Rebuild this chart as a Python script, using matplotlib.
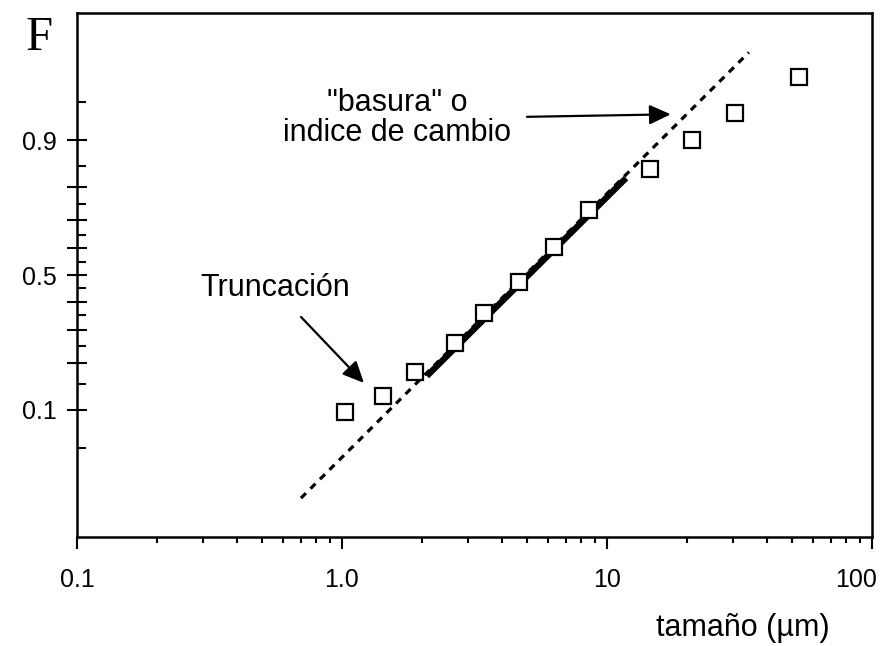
import numpy as np
import matplotlib
matplotlib.use('Agg')
import matplotlib.pyplot as plt
import matplotlib.transforms as mtransforms
from matplotlib.ticker import FixedLocator, NullFormatter, LogLocator
from statistics import NormalDist

# grain size (um) vs cumulative fraction F
size = [1.03, 1.43, 1.89, 2.67, 3.43, 4.65, 6.31, 8.55, 14.5, 20.9, 30.4, 53.0]
frac = [0.096, 0.125, 0.178, 0.259, 0.359, 0.473, 0.605, 0.732, 0.844, 0.901, 0.939, 0.970]

# extrapolated trend (dotted) and fitted part (thick)
trend_x = [0.70, 34.3]
trend_f = [0.0168, 0.983]
fit_x = [2.09, 11.8]
fit_f = [0.168, 0.822]

major_f = [0.1, 0.2, 0.3, 0.4, 0.5, 0.6, 0.7, 0.8, 0.9]
minor_f = [0.05, 0.15, 0.25, 0.35, 0.45, 0.55, 0.65, 0.75, 0.85, 0.95]
labels_f = {0.1: '0.1', 0.5: '0.5', 0.9: '0.9'}
x_ticks = [0.1, 1.0, 10, 100]
x_labels = ['0.1', '1.0', '10', '100']

nd = NormalDist()
_ppf = np.vectorize(lambda p: nd.inv_cdf(min(max(p, 1e-9), 1 - 1e-9)))
_cdf = np.vectorize(nd.cdf)

def probit(p):
    return _ppf(np.asarray(p, dtype=float))

def inv_probit(z):
    return _cdf(np.asarray(z, dtype=float))

plt.rcParams['font.family'] = ['Liberation Sans', 'DejaVu Sans']

fig = plt.figure(figsize=(8.83, 6.46), dpi=100)
ax = fig.add_axes([77/883, 1 - 537/646, 795/883, 524/646])

ax.set_xscale('log')
ax.set_yscale('function', functions=(probit, inv_probit))
ax.set_xlim(0.1, 100)
ax.set_ylim(0.0063, 0.9937)

ax.plot(trend_x, trend_f, color='black', lw=2.3, linestyle=(0, (2.2, 2.0)))
ax.plot(fit_x, fit_f, color='black', lw=4.5, solid_capstyle='butt')
ax.plot(size, frac, linestyle='none', marker='s', ms=11.5, mfc='white',
        mec='black', mew=1.6)

# y axis (probability scale)
ax.yaxis.set_major_locator(FixedLocator(major_f))
ax.yaxis.set_minor_locator(FixedLocator(minor_f))
ax.set_yticklabels([labels_f.get(v, '') for v in major_f])
ax.yaxis.set_minor_formatter(NullFormatter())
ax.tick_params(axis='y', which='major', direction='inout', length=15, width=1.5,
               labelsize=18, pad=7)
ax.tick_params(axis='y', which='minor', direction='in', length=6.5, width=1.5)

# x axis (log)
ax.set_xticks(x_ticks)
ax.set_xticklabels(x_labels)
ax.xaxis.set_minor_locator(LogLocator(base=10, subs=np.arange(2, 10)))
ax.xaxis.set_minor_formatter(NullFormatter())
ax.tick_params(axis='x', which='major', direction='out', length=8.5, width=1.5,
               labelsize=18, pad=14)
ax.tick_params(axis='x', which='minor', direction='out', length=4.3, width=1.5)
last = ax.get_xticklabels()[-1]
last.set_horizontalalignment('right')
last.set_transform(last.get_transform() +
                   mtransforms.ScaledTranslation(5/100, 0, fig.dpi_scale_trans))

for s in ax.spines.values():
    s.set_linewidth(1.8)

ax.set_xlabel('tamaño (µm)', fontsize=22, ha='right', va='center')
ax.xaxis.set_label_coords((830 - 77) / 795, (537 - 628) / 524)

fig.text(39/883, 1 - 38/646, 'F', fontsize=35, family='Liberation Serif',
         ha='center', va='center')

arrow = dict(arrowstyle='-|>,head_length=0.65,head_width=0.3',
             color='black', lw=1.6, shrinkA=0, shrinkB=0, mutation_scale=20)

ax.text(0.559, 0.451, 'Truncación', fontsize=22, ha='center', va='center')
ax.annotate('', xy=(1.21, 0.152), xytext=(0.70, 0.345), arrowprops=arrow)

ax.text(1.613, 0.9326, '"basura" o\nindice de cambio', fontsize=22,
        ha='center', va='center', linespacing=1.0)
ax.annotate('', xy=(17.4, 0.937), xytext=(4.99, 0.934), arrowprops=arrow)

fig.savefig('out.png', dpi=100)
